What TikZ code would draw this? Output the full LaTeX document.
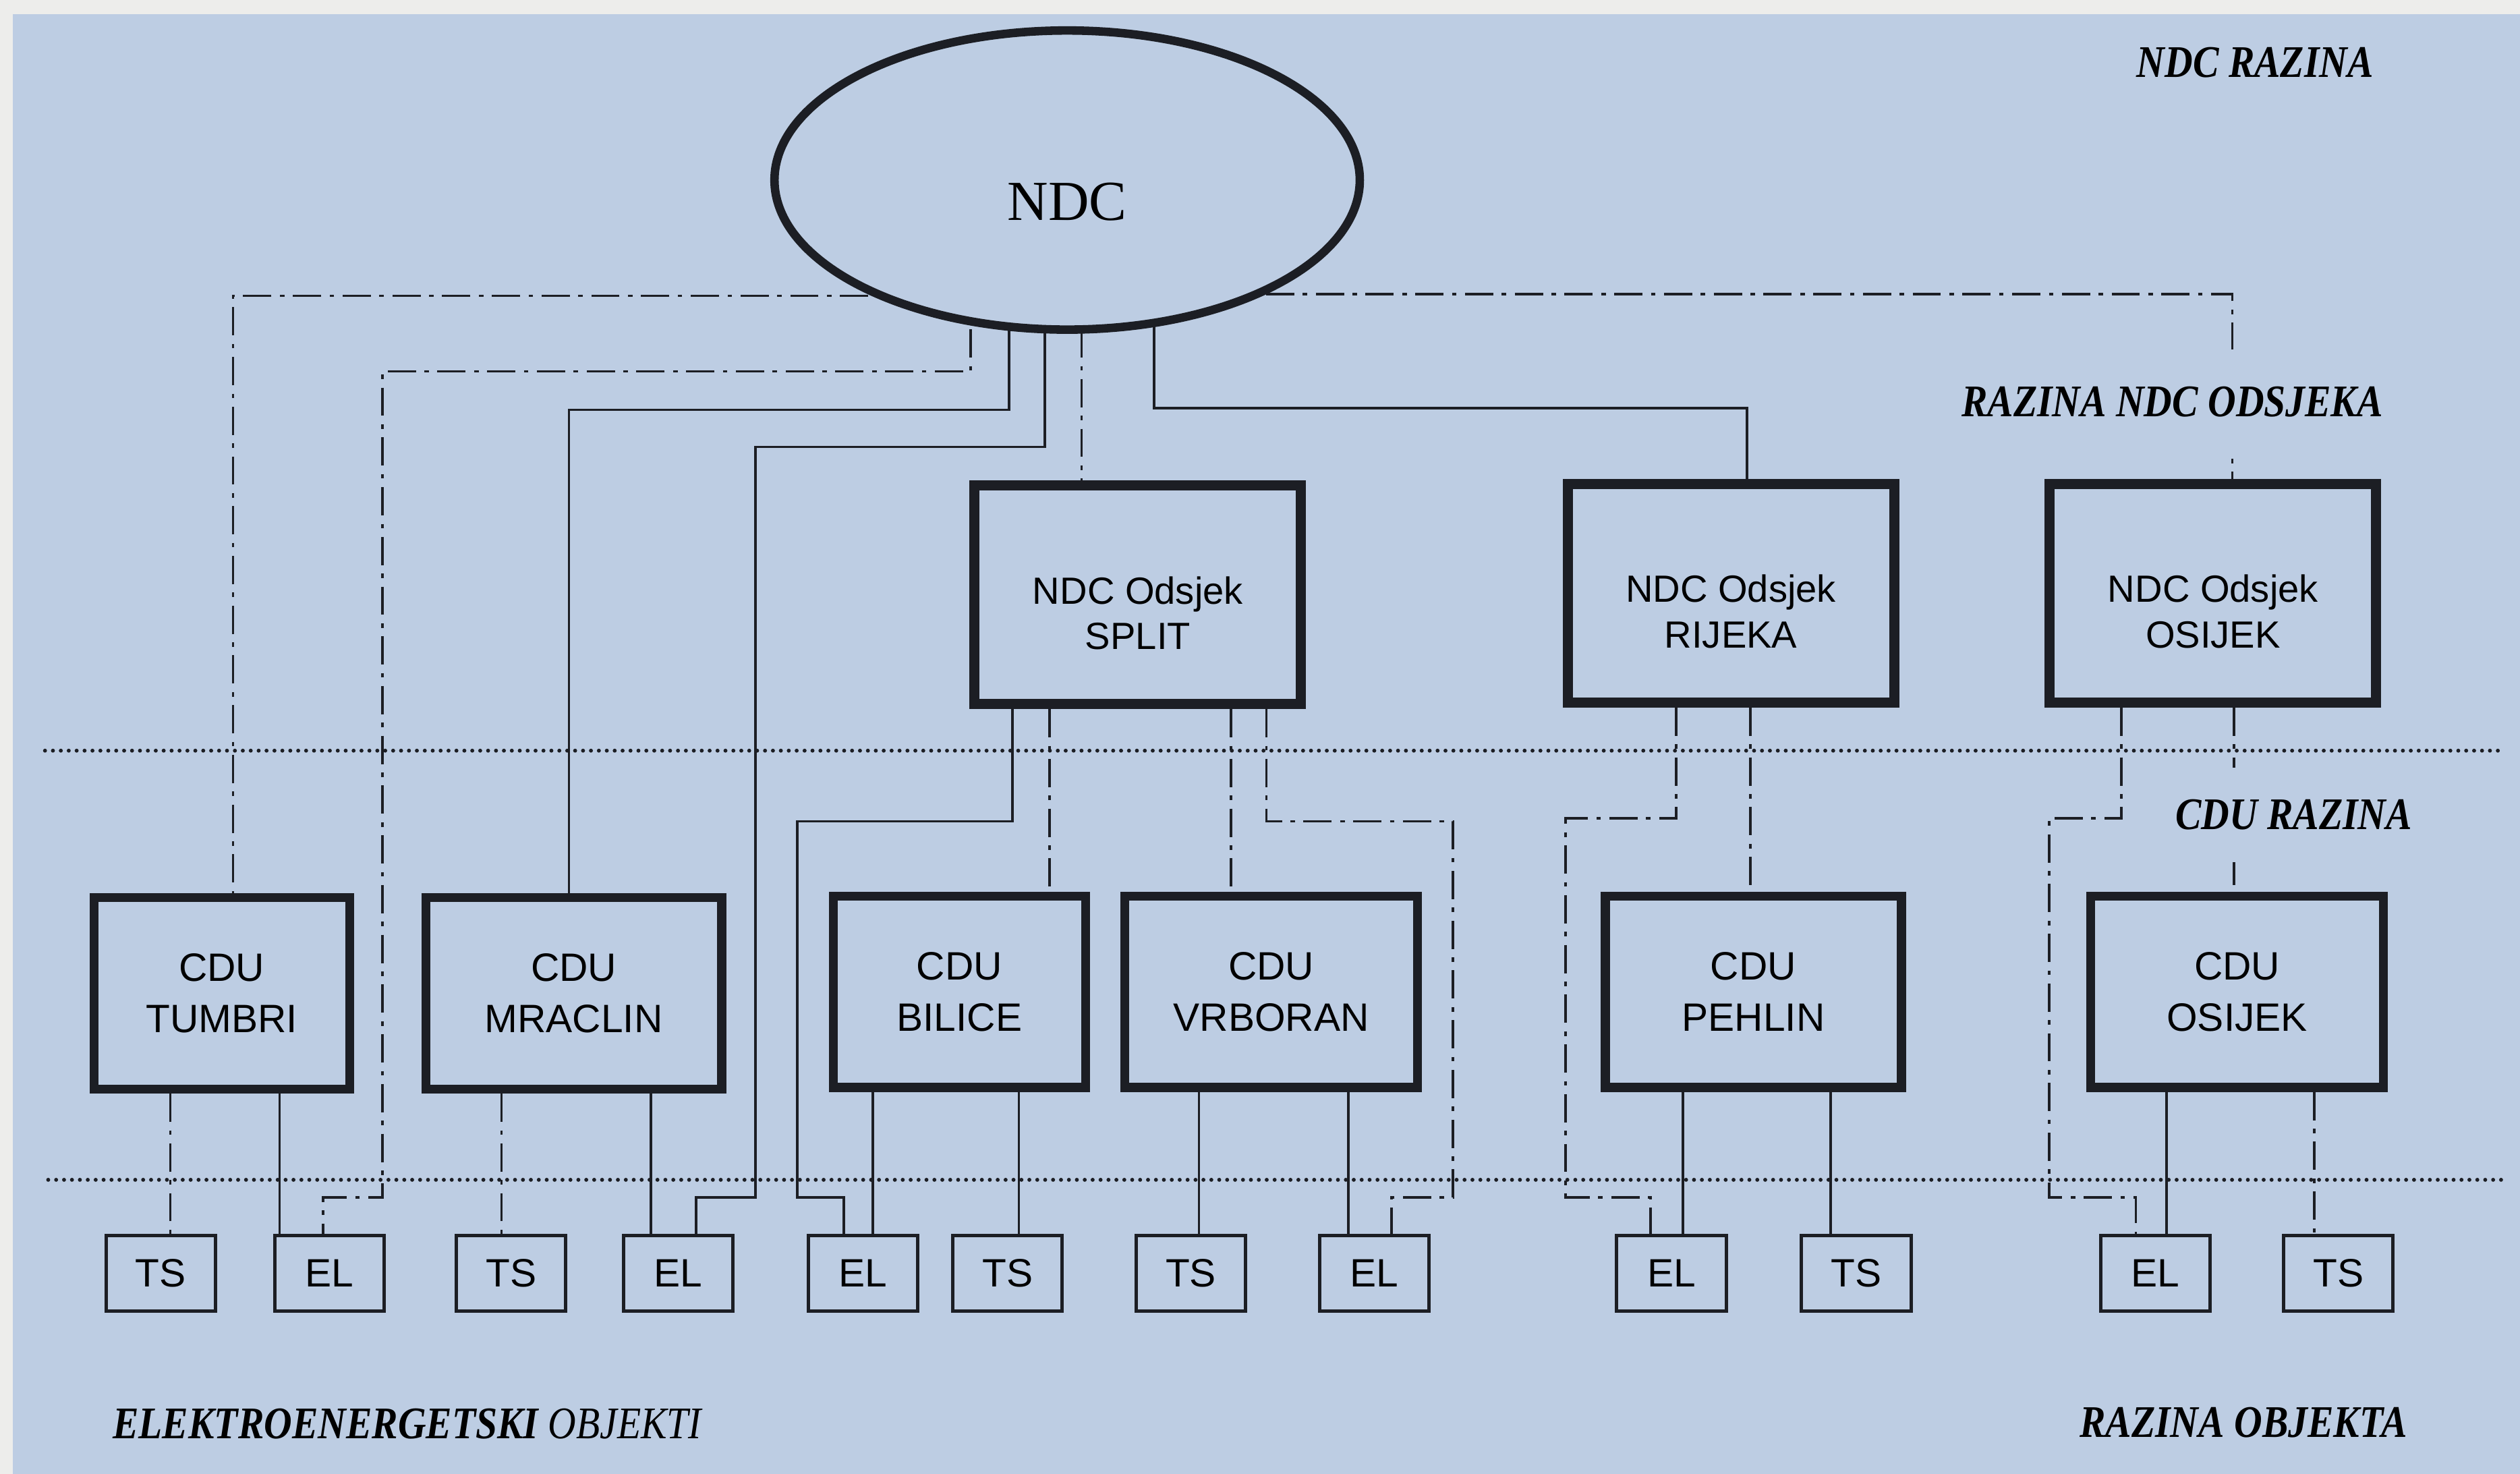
\documentclass[tikz,border=0pt]{standalone}
\usepackage{fontspec}
\setmainfont{Liberation Serif}
\setsansfont{Liberation Sans}
\usepackage{graphicx}
\usepackage{tikz}
\usetikzlibrary{shapes.geometric}
\definecolor{podloga}{RGB}{189,205,227}
\definecolor{papir}{RGB}{237,237,235}
\definecolor{tinta}{RGB}{28,30,36}
\pgfdeclarelayer{papirsloj}
\pgfdeclarelayer{vezesloj}
\pgfsetlayers{papirsloj,vezesloj,main}
\newcommand{\razina}[1]{\scalebox{0.86}[1]{\bfseries\itshape #1}}

\begin{document}
\begin{tikzpicture}[x=0.01cm, y=-0.01cm,
      ndc/.style={ellipse, draw=tinta, line width=1.5pt, fill=podloga,
        minimum width=3.64cm, minimum height=1.86cm, inner sep=0pt,
        text height=0.5cm, text depth=0pt, font=\fontsize{10}{12}\selectfont},
      odsjek/.style={draw=tinta, line width=1.8pt, fill=podloga,
        minimum width=2.03cm, minimum height=1.36cm, align=center, inner sep=0pt,
        text height=21pt, text depth=1.6pt,
        font=\sffamily\fontsize{6.7}{8.1}\selectfont},
      cdu/.style={draw=tinta, line width=1.6pt, fill=podloga,
        minimum height=1.19cm, align=center, inner sep=0pt,
        font=\sffamily\fontsize{7}{9.1}\selectfont},
      objekt/.style={draw=tinta, line width=0.6pt, fill=podloga,
        minimum width=0.68cm, minimum height=0.47cm, inner sep=0pt,
        font=\sffamily\fontsize{7}{8}\selectfont},
      veza/.style={draw=tinta, line width=0.45pt},
      vezacrta/.style={veza, dash pattern=on 5pt off 1.5pt on 0.8pt off 1.5pt},
      razdjel/.style={draw=tinta, line width=0.7pt, line cap=round,
        dash pattern=on 0pt off 1.4pt},
      razina/.style={fill=podloga, inner xsep=1pt, font=\fontsize{8}{9}\selectfont},
    ]
    % Paper and background
    \begin{pgfonlayer}{papirsloj}
      \fill[papir] (0,0) rectangle (1568,917);
      \fill[podloga] (8,9) rectangle (1568,917);
    \end{pgfonlayer}
    \useasboundingbox (0,0) rectangle (1568,917);

    % NDC level
    \node[ndc] (ndc) at (664,112) {NDC};

    % NDC Odsjek level
    \node[odsjek] (split) at (708,370) {NDC Odsjek\\SPLIT};
    \node[odsjek] (rijeka) at (1077,369) {NDC Odsjek\\RIJEKA};
    \node[odsjek] (odsosijek) at (1377,369) {NDC Odsjek\\OSIJEK};

    % CDU level
    \node[cdu, minimum width=1.59cm] (tumbri) at (138,618) {CDU\\TUMBRI};
    \node[cdu, minimum width=1.84cm] (mraclin) at (357,618) {CDU\\MRACLIN};
    \node[cdu, minimum width=1.57cm] (bilice) at (597,617) {CDU\\BILICE};
    \node[cdu, minimum width=1.82cm] (vrboran) at (791,617) {CDU\\VRBORAN};
    \node[cdu, minimum width=1.84cm] (pehlin) at (1091,617) {CDU\\PEHLIN};
    \node[cdu, minimum width=1.82cm] (cduosijek) at (1392,617) {CDU\\OSIJEK};

    % Objects
    \node[objekt] (ts1) at (100,792) {TS};
    \node[objekt] (el1) at (205,792) {EL};
    \node[objekt] (ts2) at (318,792) {TS};
    \node[objekt] (el2) at (422,792) {EL};
    \node[objekt] (el3) at (537,792) {EL};
    \node[objekt] (ts3) at (627,792) {TS};
    \node[objekt] (ts4) at (741,792) {TS};
    \node[objekt] (el4) at (855,792) {EL};
    \node[objekt] (el5) at (1040,792) {EL};
    \node[objekt] (ts5) at (1155,792) {TS};
    \node[objekt] (el6) at (1341,792) {EL};
    \node[objekt] (ts6) at (1455,792) {TS};

    % Level names
    \node[razina, anchor=east] (lndc) at (1481,39) {\razina{NDC RAZINA}};
    \node[razina, anchor=east, inner ysep=2.3mm] (lodsjek) at (1487,250) {\razina{RAZINA NDC ODSJEKA}};
    \node[razina, anchor=east, inner ysep=2mm] (lcdu) at (1505,507) {\razina{CDU RAZINA}};
    \node[razina, anchor=east] (lobjekt) at (1502,885) {\razina{RAZINA OBJEKTA}};
    \node[razina, anchor=west] (leeo) at (66,886)
      {\scalebox{0.86}[1]{\itshape\textbf{ELEKTROENERGETSKI} OBJEKTI}};

    \begin{pgfonlayer}{vezesloj}
      % level separators
      \draw[razdjel] (28,467) -- (1556,467);
      \draw[razdjel] (30,734) -- (1561,734);

      % links out of NDC
      \draw[vezacrta] (ndc.center |- 0,184) -- (145,184) -- (tumbri.north -| 145,0);
      \draw[vezacrta] (ndc.center -| 604,0) |- (238,231) -- (238,745) -| (el1.north -| 201,0);
      \draw[veza] (ndc.center -| 628,0) |- (354,255) -- (mraclin.north -| 354,0);
      \draw[veza] (ndc.center -| 650,0) |- (470,278) -- (470,745) -| (el2.north -| 433,0);
      \draw[vezacrta] (ndc.center -| 673,0) -- (split.north -| 673,0);
      \draw[veza] (ndc.center -| 718,0) |- (1087,254) -- (rijeka.north -| 1087,0);
      \draw[vezacrta] (ndc.center |- 0,183) -| (odsosijek.north -| 1389,0);

      % links out of the NDC Odsjek boxes
      \draw[veza] (split.south -| 630,0) |- (496,511) -- (496,745) -| (el3.north -| 525,0);
      \draw[vezacrta] (split.south -| 653,0) -- (bilice.north -| 653,0);
      \draw[vezacrta] (split.south -| 766,0) -- (vrboran.north -| 766,0);
      \draw[vezacrta] (split.south -| 788,0) |- (904,511) -- (904,745) -| (el4.north -| 866,0);
      \draw[vezacrta] (rijeka.south -| 1043,0) |- (974,509) -- (974,745) -| (el5.north -| 1027,0);
      \draw[vezacrta] (rijeka.south -| 1089,0) -- (pehlin.north -| 1089,0);
      \draw[vezacrta] (odsosijek.south -| 1320,0) |- (1275,509) -- (1275,745) -| (el6.north -| 1329,0);
      \draw[vezacrta] (odsosijek.south -| 1390,0) -- (cduosijek.north -| 1390,0);

      % links from CDU to objects
      \foreach \od/\na/\x/\stil in {tumbri/ts1/106/vezacrta, tumbri/el1/174/veza,
          mraclin/ts2/312/vezacrta, mraclin/el2/405/veza, bilice/el3/543/veza,
          bilice/ts3/634/veza, vrboran/ts4/746/veza, vrboran/el4/839/veza,
          pehlin/el5/1047/veza, pehlin/ts5/1139/veza, cduosijek/el6/1348/veza,
          cduosijek/ts6/1440/vezacrta}
        \draw[\stil] (\od.south -| \x,0) -- (\na.north -| \x,0);
    \end{pgfonlayer}
  \end{tikzpicture}
\end{document}
